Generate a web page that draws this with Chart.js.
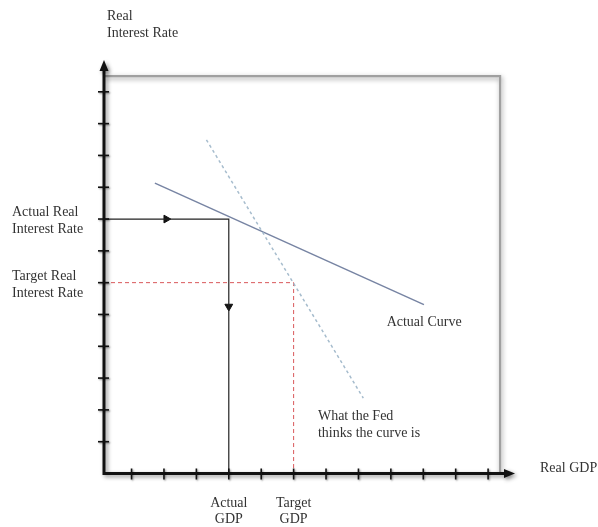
<!DOCTYPE html>
<html>
<head>
<meta charset="utf-8">
<script src="https://cdn.jsdelivr.net/npm/chart.js@4/dist/chart.umd.min.js"></script>
<style>
  html, body { margin: 0; padding: 0; background: #fff; }
  #wrap { width: 598px; height: 527px; }
</style>
</head>
<body>
<div id="wrap"><canvas id="c" width="598" height="527"></canvas></div>
<script>
// ---- data ----
const xTickValues = [1, 2, 3, 4, 5, 6, 7, 8, 9, 10, 11, 12];
const yTickValues = [1, 2, 3, 4, 5, 6, 7, 8, 9, 10, 11, 12];
const xLabelValues = [4, 6];
const xLabelTexts = [['Actual', 'GDP'], ['Target', 'GDP']];
const yLabelValues = [8, 6];
const yLabelTexts = [['Actual Real', 'Interest Rate'], ['Target Real', 'Interest Rate']];
const xMin = 0.15, xMax = 12.83, yMin = 0, yMax = 13;

const actualCurveX = [1.72, 10.02];
const actualCurveY = [9.13, 5.31];
const fedCurveX = [3.31, 8.15];
const fedCurveY = [10.49, 2.37];
const actualPathX = [0.15, 4, 4];
const actualPathY = [8, 8, 0];
const targetPathX = [0.15, 6, 6];
const targetPathY = [6, 6, 0];
const arrowX = [2.07, 4];
const arrowY = [8, 5.25];
const arrowRot = [90, 180];
const frameX = [0.15, 12.37, 12.37];
const frameY = [12.49, 12.49, 0];

const xTitle = 'Real GDP';
const yTitle = ['Real', 'Interest Rate'];
const notes = [
  { x: 8.87, y: 4.74, lines: ['Actual Curve'] },
  { x: 6.75, y: 1.8, lines: ['What the Fed', 'thinks the curve is'] }
];

const pts = (xs, ys) => xs.map((x, i) => ({ x: x, y: ys[i] }));
const FONT = '"Liberation Serif", "DejaVu Serif", serif';
const TXT = '#333333';

const shadowPlugin = {
  id: 'shadows',
  beforeDatasetDraw(chart, args) {
    const ds = chart.data.datasets[args.index];
    if (ds._shadow) {
      const ctx = chart.ctx;
      ctx.save();
      ctx.shadowColor = 'rgba(0,0,0,0.4)';
      ctx.shadowBlur = 5;
      ctx.shadowOffsetX = 1;
      ctx.shadowOffsetY = 2;
    }
  },
  afterDatasetDraw(chart, args) {
    const ds = chart.data.datasets[args.index];
    if (ds._shadow) chart.ctx.restore();
  }
};

const axesPlugin = {
  id: 'axesDraw',
  afterDatasetsDraw(chart) {
    const ctx = chart.ctx;
    const xs = chart.scales.x, ys = chart.scales.y;
    const x0 = xs.getPixelForValue(xMin);
    const y0 = ys.getPixelForValue(0);
    const xEnd = xs.getPixelForValue(xMax);
    const yEnd = ys.getPixelForValue(yMax);
    ctx.save();
    ctx.shadowColor = 'rgba(0,0,0,0.45)';
    ctx.shadowBlur = 4;
    ctx.shadowOffsetX = 2;
    ctx.shadowOffsetY = 2;
    ctx.strokeStyle = '#111';
    ctx.fillStyle = '#111';
    ctx.lineWidth = 3;
    ctx.beginPath();
    ctx.moveTo(x0, yEnd + 8);
    ctx.lineTo(x0, y0);
    ctx.lineTo(xEnd - 8, y0);
    ctx.stroke();
    // arrowheads
    ctx.beginPath();
    ctx.moveTo(x0, yEnd);
    ctx.lineTo(x0 - 4.5, yEnd + 11);
    ctx.lineTo(x0 + 4.5, yEnd + 11);
    ctx.closePath();
    ctx.fill();
    ctx.beginPath();
    ctx.moveTo(xEnd, y0);
    ctx.lineTo(xEnd - 11, y0 - 4.5);
    ctx.lineTo(xEnd - 11, y0 + 4.5);
    ctx.closePath();
    ctx.fill();
    // tick marks crossing the axes
    ctx.lineWidth = 1.6;
    ctx.shadowBlur = 2;
    ctx.shadowOffsetX = 1;
    ctx.shadowOffsetY = 1;
    xTickValues.forEach(v => {
      const p = xs.getPixelForValue(v);
      ctx.beginPath();
      ctx.moveTo(p, y0 - 5);
      ctx.lineTo(p, y0 + 6);
      ctx.stroke();
    });
    yTickValues.forEach(v => {
      const p = ys.getPixelForValue(v);
      ctx.beginPath();
      ctx.moveTo(x0 - 6, p);
      ctx.lineTo(x0 + 5, p);
      ctx.stroke();
    });
    ctx.restore();

    // texts
    ctx.save();
    ctx.fillStyle = TXT;
    ctx.font = '14px ' + FONT;
    ctx.textAlign = 'left';
    ctx.textBaseline = 'middle';
    yTitle.forEach((t, i) => ctx.fillText(t, x0 + 3, yEnd - 44 + i * 17));
    ctx.fillText(xTitle, xEnd + 25, y0 - 5);
    notes.forEach(n => {
      const px = xs.getPixelForValue(n.x);
      const py = ys.getPixelForValue(n.y);
      n.lines.forEach((t, i) => ctx.fillText(t, px, py + i * 17.5));
    });
    ctx.restore();
  }
};

new Chart(document.getElementById('c'), {
  type: 'scatter',
  data: {
    datasets: [
      { data: pts(frameX, frameY), showLine: true, borderColor: '#a0a0a0', borderWidth: 2.2, pointRadius: 0, _shadow: true },
      { data: pts(fedCurveX, fedCurveY), showLine: true, borderColor: '#a6bccd', borderWidth: 1.5, borderDash: [3, 3], pointRadius: 0 },
      { data: pts(targetPathX, targetPathY), showLine: true, borderColor: '#d9585a', borderWidth: 1, borderDash: [4, 3], pointRadius: 0 },
      { data: pts(actualPathX, actualPathY), showLine: true, borderColor: '#222', borderWidth: 1.2, pointRadius: 0 },
      { data: pts(actualCurveX, actualCurveY), showLine: true, borderColor: '#7784a3', borderWidth: 1.5, pointRadius: 0 },
      { data: pts(arrowX, arrowY), showLine: false, pointStyle: 'triangle', pointRadius: 4.5, rotation: arrowRot, backgroundColor: '#111', borderColor: '#111', borderWidth: 1 }
    ]
  },
  options: {
    responsive: false,
    animation: false,
    events: [],
    layout: { padding: { left: 12, right: 83, top: 60, bottom: 0 } },
    plugins: { legend: { display: false }, tooltip: { enabled: false } },
    scales: {
      x: {
        type: 'linear', min: xMin, max: xMax,
        afterBuildTicks: s => { s.ticks = xLabelValues.map(v => ({ value: v })); },
        afterFit: s => { s.height = 53.5; },
        grid: { display: false },
        border: { display: false },
        ticks: {
          autoSkip: false, maxRotation: 0, padding: 13,
          color: TXT, font: { family: FONT, size: 14, lineHeight: 1.2 },
          callback: v => { const i = xLabelValues.indexOf(v); return i >= 0 ? xLabelTexts[i] : ''; }
        }
      },
      y: {
        type: 'linear', min: yMin, max: yMax,
        afterBuildTicks: s => { s.ticks = yLabelValues.map(v => ({ value: v })); },
        afterFit: s => { s.width = 92; },
        grid: { display: false },
        border: { display: false },
        ticks: {
          autoSkip: false, crossAlign: 'far', padding: 0, labelOffset: 2,
          color: TXT, font: { family: FONT, size: 14, lineHeight: 1.2 },
          callback: v => { const i = yLabelValues.indexOf(v); return i >= 0 ? yLabelTexts[i] : ''; }
        }
      }
    }
  },
  plugins: [shadowPlugin, axesPlugin]
});
</script>
</body>
</html>
